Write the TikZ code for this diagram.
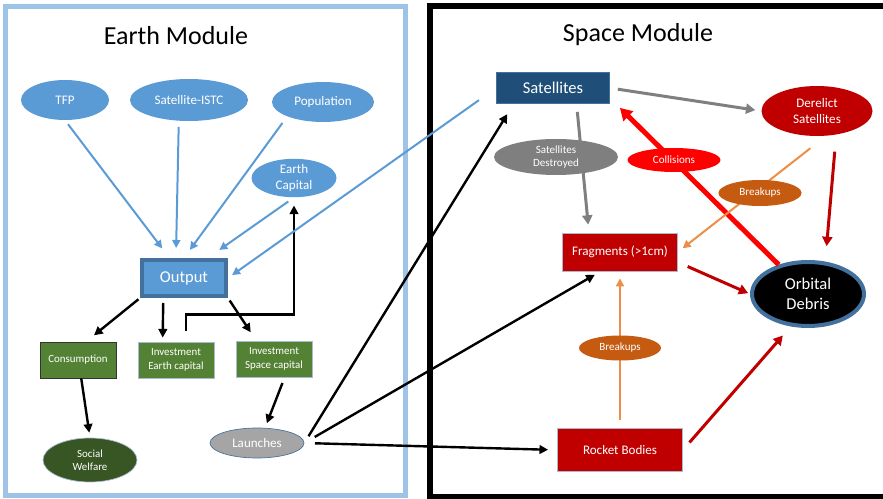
\documentclass[tikz,border=0pt]{standalone}
\usepackage{fontspec}
\setmainfont{Carlito}
\usetikzlibrary{arrows.meta,shapes.geometric}

\definecolor{earthframe}{HTML}{9DC3E6}
\definecolor{accblue}{HTML}{5B9BD5}
\definecolor{darkblue}{HTML}{41719C}
\definecolor{navy}{HTML}{1F4E79}
\definecolor{leaf}{HTML}{548235}
\definecolor{forest}{HTML}{375623}
\definecolor{ash}{HTML}{A5A5A5}
\definecolor{slate}{HTML}{7F7F7F}
\definecolor{crimson}{HTML}{C00000}
\definecolor{scarlet}{HTML}{FF0000}
\definecolor{rust}{HTML}{C55A11}
\definecolor{peach}{HTML}{EE8D45}
\definecolor{paleedge}{HTML}{A9B9D0}

\begin{document}
\begin{tikzpicture}[
  x=0.75pt, y=-0.75pt,
  titletext/.style={font=\fontsize{19.5}{22}\selectfont},
  oval/.style={ellipse, inner sep=0pt, align=center, text=white},
  block/.style={rectangle, inner sep=0pt, align=center, text=white},
  blueoval/.style={oval, fill=accblue, font=\fontsize{9.8}{12}\selectfont},
  greenbox/.style={block, fill=leaf, draw=paleedge, line width=0.6pt,
    minimum width=57pt, minimum height=27pt, font=\fontsize{8.2}{10}\selectfont},
  redbox/.style={block, fill=crimson, draw=paleedge, line width=0.6pt,
    font=\fontsize{9.8}{12}\selectfont},
  tag/.style={oval, font=\fontsize{8.3}{10}\selectfont},
  bluearrow/.style={-{Triangle[length=6pt,width=6pt]}, line width=1.5pt, draw=accblue},
  blackarrow/.style={-{Triangle[length=6.5pt,width=6.5pt]}, line width=1.8pt, draw=black},
  greyarrow/.style={-{Triangle[length=7pt,width=7.5pt]}, line width=2.25pt, draw=slate},
  orangearrow/.style={-{Triangle[length=6pt,width=6pt]}, line width=1.5pt, draw=peach},
  redarrow/.style={-{Triangle[length=7pt,width=7.5pt]}, line width=2.25pt, draw=crimson},
  hitarrow/.style={-{Triangle[length=9pt,width=10pt]}, line width=3.75pt, draw=scarlet}
]
\useasboundingbox (0,0) rectangle (883,499);
\clip (0,0) rectangle (883,499);

% module frames
\draw[earthframe, line width=3.75pt] (5.5,6.5) rectangle (405.5,495.5);
\draw[black, line width=4.5pt] (430,6) rectangle (900,497);
\node[titletext] (earthtitle) at (176,36) {Earth Module};
\node[titletext] (spacetitle) at (638,35) {Space Module};

% earth module
\node[blueoval, minimum width=66pt, minimum height=30pt] (tfp) at (65,100) {TFP};
\node[blueoval, minimum width=88.5pt, minimum height=31.5pt] (istc) at (189,100) {Satellite-ISTC};
\node[blueoval, minimum width=76.5pt, minimum height=30pt] (pop) at (323,102) {Population};
\node[blueoval, minimum width=63.75pt, minimum height=27.75pt] (ecap) at (294,178) {Earth\\Capital};
\node[block, fill=accblue, draw=darkblue, line width=3pt, minimum width=63pt,
  minimum height=27pt, font=\fontsize{12.4}{14}\selectfont] (output) at (184,278) {Output};
\node[greenbox, draw=black!80] (cons) at (78,360) {Consumption};
\node[greenbox] (inve) at (176,360) {Investment\\Earth capital};
\node[greenbox] (invs) at (274,359) {Investment\\Space capital};
\node[oval, fill=forest, draw=paleedge, line width=0.5pt, minimum width=70.5pt,
  minimum height=33pt, font=\fontsize{8.2}{10}\selectfont] (welfare) at (90,460) {Social\\Welfare};
\node[oval, fill=ash, draw=darkblue, line width=0.5pt, minimum width=70.5pt,
  minimum height=22.5pt, font=\fontsize{9.8}{12}\selectfont] (launch) at (257,443) {Launches};

% space module
\node[block, fill=navy, draw=darkblue, line width=0.6pt, minimum width=84.75pt,
  minimum height=23.25pt, font=\fontsize{12.4}{14}\selectfont] (sat) at (553,88) {Satellites};
\node[oval, fill=crimson, minimum width=83.25pt, minimum height=37.5pt,
  font=\fontsize{9.8}{11.8}\selectfont] (derelict) at (817,111) {Derelict\\Satellites};
\node[redbox, minimum width=86.25pt, minimum height=28.5pt] (frag) at (620,252) {Fragments (>1cm)};
\node[oval, fill=black, draw=darkblue, line width=3pt, minimum width=84pt, minimum height=48pt,
  font=\fontsize{12.4}{15}\selectfont] (debris) at (808,294) {Orbital\\Debris};
\node[redbox, minimum width=93.75pt, minimum height=32.25pt] (rocket) at (620,450) {Rocket Bodies};

% earth arrows
\draw[bluearrow, shorten <=3.75pt, shorten >=9pt] (tfp.south) -- (output.126);
\draw[bluearrow, shorten <=4.5pt, shorten >=7.5pt] (istc.244) -- (output.112);
\draw[bluearrow, shorten <=6pt, shorten >=7.5pt] (pop.202) -- (output.north);
\draw[bluearrow, shorten <=5.25pt, shorten >=10.5pt] (ecap.south) -- (output.40);
\draw[blackarrow, shorten <=1.5pt, shorten >=7.5pt] (output.south west) -- (cons.66);
\draw[blackarrow, shorten <=3.75pt, shorten >=3pt] (output.224) -- (inve.126);
\draw[blackarrow, shorten <=2.25pt, shorten >=7.5pt] (output.south east) -- (invs.134);
\draw[blackarrow, shorten <=8.25pt, shorten >=6pt] (inve.61) -- ++(0,-27) -| (ecap.south);
\draw[blackarrow, shorten >=3.75pt] (cons.280) -- (welfare.north);
\draw[blackarrow, shorten <=4.5pt, shorten >=3.75pt] (invs.300) -- (launch.62);

% launches into orbit
\draw[blackarrow, shorten <=6pt, shorten >=9pt] (launch.east) -- (sat.202);
\draw[blackarrow, shorten <=9pt, shorten >=5pt] (launch.east) -- (frag.225);
\draw[blackarrow, shorten <=8pt, shorten >=6.75pt] (launch.east) -- (rocket.west);
\draw[bluearrow, shorten <=15.75pt, shorten >=3.75pt] (sat.west) -- (output.east);

% space arrows
\draw[greyarrow, shorten <=6pt, shorten >=4.5pt] (sat.east) -- (derelict.west);
\draw[greyarrow, shorten <=6pt, shorten >=6pt] (sat.326) -- (frag.148);
\draw[redarrow, shorten <=12.75pt, shorten >=11.6pt] (derelict.309) -- (debris.62);
\draw[hitarrow, shorten >=10.5pt] (debris.135) -- (sat.350);
\draw[orangearrow, shorten <=15pt, shorten >=4.5pt] (derelict.290) -- (frag.east);
\draw[redarrow, shorten <=8pt, shorten >=1.5pt] (frag.350) -- (debris.west);
\draw[orangearrow, shorten <=6pt, shorten >=5.25pt] (rocket.north) -- (frag.south);
\draw[redarrow, shorten <=7.5pt, shorten >=9pt] (rocket.east) -- (debris.242);

% labels sitting on the arrows
\node[tag, fill=slate, minimum width=93pt, minimum height=27pt] (satdes) at (556,157) {Satellites\\Destroyed};
\node[tag, fill=scarlet, minimum width=69.75pt, minimum height=18pt] (coll) at (674,160) {Collisions};
\node[tag, fill=rust, minimum width=62.25pt, minimum height=19.5pt] (brkderelict) at (760,193) {Breakups};
\node[tag, fill=rust, minimum width=61.5pt, minimum height=18.75pt] (brkrocket) at (620,348) {Breakups};
\end{tikzpicture}
\end{document}
